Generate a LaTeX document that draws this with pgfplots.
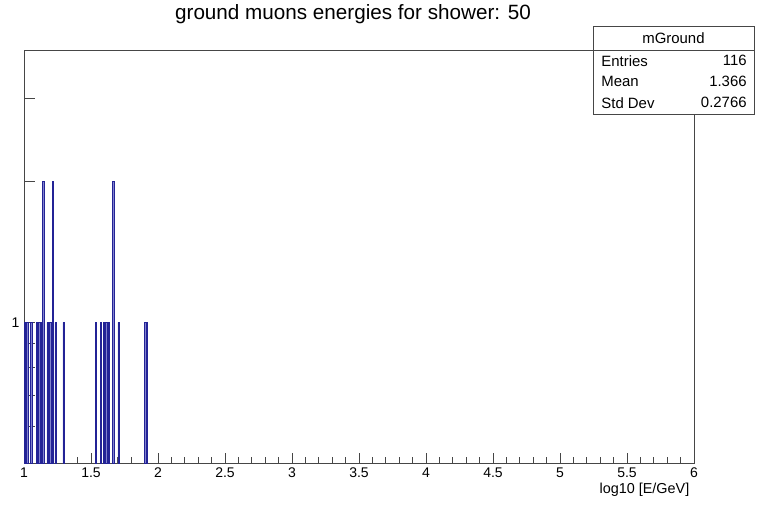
\documentclass[border=0pt]{standalone}
\usepackage{fontspec}
\setmainfont{Liberation Sans}
\usepackage{pgfplots}
\pgfplotsset{compat=1.18}
\definecolor{hline}{RGB}{35,35,150}
\definecolor{hfill}{RGB}{130,130,205}
\definecolor{frame}{RGB}{70,70,70}

\begin{document}
\begin{tikzpicture}
\path (-18pt,-32.25pt) rectangle (551.25pt,347.25pt);
\begin{axis}[
    at={(0pt,0pt)}, anchor=south west,
    scale only axis,
    width=502.5pt, height=309.75pt,
    xmin=1, xmax=6,
    ymode=log, ymin=0.5, ymax=3.8,
    log origin=infty,
    axis line style={frame, line width=0.6pt},
    tick style={frame, line width=0.5pt},
    tick align=inside,
    xtick pos=bottom, ytick pos=left,
    xtick={1,1.5,2,2.5,3,3.5,4,4.5,5,5.5,6},
    xticklabels={1,1.5,2,2.5,3,3.5,4,4.5,5,5.5,6},
    minor x tick num=4,
    ytick={0.6,0.7,0.8,0.9,1,2,3},
    yticklabels={,,,,1,,},
    major tick length=8pt,
    minor tick length=4.5pt,
    tick label style={font=\fontsize{10.5}{12}\selectfont},
    /pgf/number format/assume math mode=true,
    xlabel={log10 [E/GeV]},
    xlabel style={at={(axis description cs:1,0)}, anchor=north east,
        yshift=-11pt, font=\fontsize{10.8}{12}\selectfont},
]
\addplot[ybar, bar width=0.01, bar shift=0pt, draw=hline, line width=0.4pt, fill=hfill] coordinates {
    (1.005,1) (1.025,1) (1.055,1) (1.095,1) (1.115,1) (1.135,1)
    (1.145,2) (1.175,1) (1.185,1) (1.195,1) (1.205,1) (1.215,2)
    (1.235,1) (1.295,1) (1.535,1) (1.575,1) (1.595,1) (1.615,1)
    (1.625,1) (1.635,1) (1.665,2) (1.705,1) (1.905,1) (1.915,1)
};
\end{axis}
% title
\node[font=\fontsize{15.5}{18}\selectfont] at (246.75pt,337pt) {ground muons energies for shower: 50};
% statistics box
\draw[frame, line width=0.5pt, fill=white] (426.75pt,261.75pt) rectangle (547.5pt,327.75pt);
\draw[frame, line width=0.5pt] (426.75pt,309.75pt) -- (547.5pt,309.75pt);
\begin{scope}[font=\fontsize{11.2}{13}\selectfont]
\node at (487.1pt,318.75pt) {mGround};
\node[anchor=west] at (429.5pt,302pt) {Entries};
\node[anchor=east] at (545.5pt,302pt) {116};
\node[anchor=west] at (429.5pt,286.25pt) {Mean};
\node[anchor=east] at (545.5pt,286.25pt) {1.366};
\node[anchor=west] at (429.5pt,270.5pt) {Std Dev};
\node[anchor=east] at (545.5pt,270.5pt) {0.2766};
\end{scope}
\end{tikzpicture}
\end{document}
